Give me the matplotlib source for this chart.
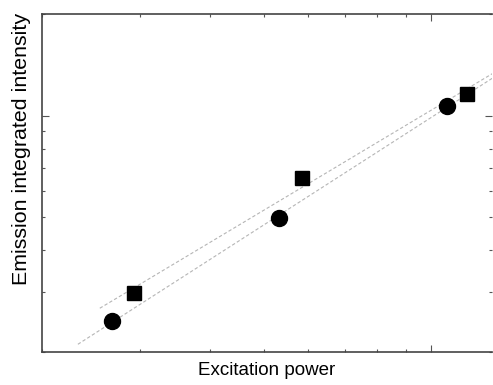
import numpy as np
import matplotlib
matplotlib.use("Agg")
import matplotlib.pyplot as plt
from matplotlib.ticker import LogLocator, NullFormatter

plt.rcParams['font.family'] = ['Liberation Sans', 'DejaVu Sans']

# Measured data (arbitrary units, log-log)
power_circle = [2.67, 5.34, 10.68]
intensity_circle = [2.47, 4.99, 10.7]
power_square = [2.92, 5.85, 11.6]
intensity_square = [2.99, 6.55, 11.62]

# Extent of the power-law fit lines along the power axis
fit_range_circle = [2.32, 13.5]
fit_range_square = [2.54, 13.5]

x_limits = [2.0, 12.86]
y_limits = [2.0, 20.0]

fig = plt.figure(figsize=(4.93, 3.85), dpi=100)
ax = fig.add_axes([42 / 493, 33 / 385, 450 / 493, 338 / 385])


def power_fit(x, y, xr):
    slope, icpt = np.polyfit(np.log10(x), np.log10(y), 1)
    xs = np.logspace(np.log10(xr[0]), np.log10(xr[1]), 50)
    return xs, 10 ** (icpt + slope * np.log10(xs))


line_style = dict(color='#b5b5b5', lw=0.8, ls=(0, (3, 2)), zorder=1)
xs, ys = power_fit(power_square, intensity_square, fit_range_square)
ax.plot(xs, ys, **line_style)
xs, ys = power_fit(power_circle, intensity_circle, fit_range_circle)
ax.plot(xs, ys, **line_style)

ax.plot(power_circle, intensity_circle, 'o', color='black', ms=11.5, zorder=3)
ax.plot(power_square, intensity_square, 's', color='black', ms=9.5, zorder=3)

ax.set_xscale('log')
ax.set_yscale('log')
ax.set_xlim(x_limits)
ax.set_ylim(y_limits)

for a in (ax.xaxis, ax.yaxis):
    a.set_major_locator(LogLocator(base=10))
    a.set_minor_locator(LogLocator(base=10, subs=np.arange(2, 10)))
    a.set_major_formatter(NullFormatter())
    a.set_minor_formatter(NullFormatter())

spine_color = '#444444'
for side in ('left', 'bottom', 'top'):
    ax.spines[side].set_color(spine_color)
    ax.spines[side].set_linewidth(1.2)
ax.spines['right'].set_visible(False)

ax.tick_params(which='both', direction='in', top=True, right=True,
               color='#555555', width=0.8)
ax.tick_params(which='major', length=5)
ax.tick_params(which='minor', length=2.5)

ax.set_xlabel('Excitation power', fontsize=13.5)
ax.set_ylabel('Emission integrated intensity', fontsize=15.4)
ax.xaxis.set_label_coords(0.5, -0.03)
ax.yaxis.set_label_coords(-0.025, 0.60)

fig.savefig('out.png', dpi=100)
